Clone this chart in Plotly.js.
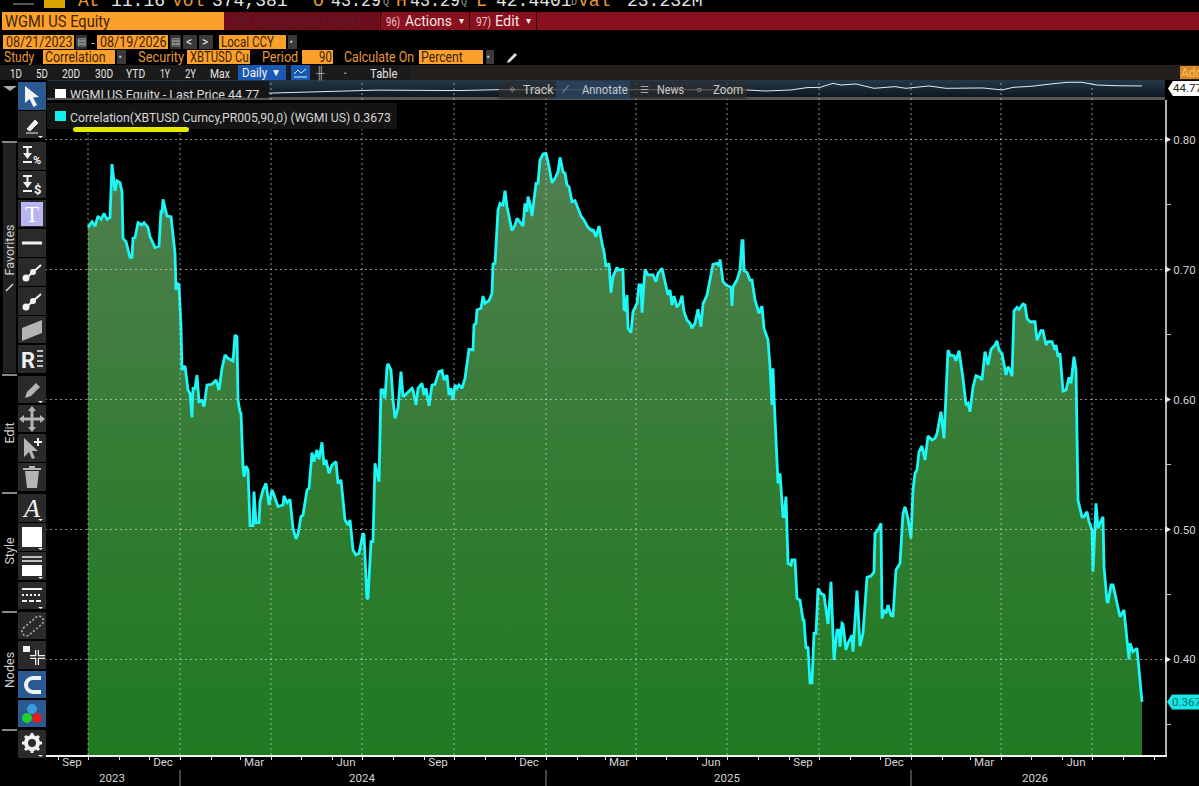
<!DOCTYPE html>
<html><head><meta charset="utf-8">
<script src="https://cdn.plot.ly/plotly-3.0.1.min.js"></script>
<style>
html,body{margin:0;padding:0;background:#000;overflow:hidden}
#stage{position:relative;width:1199px;height:786px;overflow:hidden;background:#000;font-family:Roboto,Arial,sans-serif}
#under,#chart,#over{position:absolute;left:0;top:0;width:1199px;height:786px}
#under{z-index:0}#chart{z-index:1}#over{z-index:2;pointer-events:none}
.b{position:absolute}
.t{position:absolute;white-space:pre;line-height:1}
svg.i{position:absolute;left:0;top:0}
</style></head><body>
<div id="stage"><div id="under"></div><div id="chart"></div><div id="over"></div></div>
<script>
// ---------- chart data ----------
const startDate = [2023, 9, 1];           // Oct 1 2023: day 0
const dayOffsets = [0,4,7,10,13,16,19,22,24,27,29,32,34,35,38,42,44,45,47,50,54,56,60,62,67,71,73,74,75,79,83,85,87,88,89,91,93,94,97,100,102,104,105,107,109,111,114,116,119,124,128,131,134,137,140,145,147,149,150,152,
153,155,156,158,160,162,165,166,168,171,172,175,178,181,184,186,190,195,196,199,202,205,208,210,213,215,219,221,224,226,229,231,234,236,238,241,244,248,250,253,257,260,262,265,268,271,275,276,279,280,283,285,287,291,
293,295,297,298,299,300,303,305,307,310,313,315,317,324,325,328,330,334,336,338,341,344,347,351,354,356,359,361,363,365,367,369,371,374,377,381,385,386,388,389,393,395,397,401,404,405,407,410,412,415,417,419,421,424,427,429,433,435,437,439,440,442,444,448,450,452,455,458,460,464,467,470,472,475,477,479,481,484,487,490,493,496,500,504,505,508,511,514,516,518,521,523,525,529,530,535,536,537,539,540,543,545,549,551,553,554,557,560,565,568,570,574,577,580,582,
584,586,589,592,594,596,599,602,604,607,610,613,615,619,622,625,629,631,632,635,638,643,644,645,649,652,654,655,656,659,662,664,667,671,674,676,680,682,684,685,686,689,690,692,695,696,698,699,
700,703,704,707,709,712,715,716,718,720,722,724,726,728,730,733,736,740,743,746,749,751,752,754,755,758,760,764,765,769,772,775,779,783,786,787,790,793,794,796,798,800,803,805,808,812,815,817,820,823,
825,827,829,831,834,837,840,844,847,849,853,856,858,860,862,866,868,871,875,878,880,882,885,888,892,894,897,900,903,907,909,911,914,918,920,922,924,926,929,931,935,937,939,942,947,949,953,955,958,960,964,967,968,970,972,975,978,981,983,986,988,989,990,994,996,999,1001,1004,1005,1008,1010,1012,1015,1016,1019,1020,1023,1025,1029,1032,1036,1039,1041,1042,1045,1049,1054];
const correlation = [.7324,.7368,.7334,.7411,.7386,.7432,.7386,.7401,.7811,.7606,.7683,.7668,.7599,.7240,.7214,.7093,.7093,.7240,.7245,.7360,.7342,.7360,.7324,.7252,.7170,.7181,.7458,.7432,.7540,.7411,.7406,.7252,.7124,.6842,.6893,.6881,.6560,.6227,.6258,.6073,.6047,.5863,.6086,.6086,.6188,.5983,.5991,.5945,.6111,.6117,.6150,.6073,.6240,.6342,.6317,.6296,.6496,.6483,.5996,.5906,
.5894,.5483,.5406,.5488,.5458,.5029,.5029,.5291,.5053,.5053,.5214,.5304,.5355,.5188,.5304,.5265,.5176,.5188,.5258,.5206,.5232,.5009,.4927,.4965,.5099,.5112,.5304,.5317,.5591,.5522,.5612,.5540,.5671,.5496,.5535,.5432,.5496,.5522,.5355,.5381,.5073,.5035,.5073,.4842,.4804,.4817,.4971,.4958,.4465,.4471,.4906,.4906,.5509,.5368,
.6073,.6073,.6009,.6129,.6252,.6273,.6227,.5996,.5855,.5932,.6214,.6022,.6034,.6086,.6073,.5958,.6086,.6124,.6034,.6086,.5952,.6111,.6117,.6214,.6222,.6150,.6188,.6034,.6086,.5996,.6111,.6086,.6111,.6086,.6163,.6386,.6381,.6573,.6586,.6688,.6701,.6796,.6740,.6760,.6817,.7042,.7047,.7458,.7509,.7496,.7606,.7483,.7419,.7299,.7342,.7393,.7355,.7334,.7509,.7445,.7560,.7509,.7411,.7663,.7663,.7842,.7888,.7893,.7829,.7668,.7701,.7752,.7863,.7752,.7740,.7650,.7637,.7522,.7529,.7470,.7411,.7381,.7324,.7299,.7309,.7252,.7334,.7201,.7137,.7022,.7047,.6822,.6945,.7017,.6996,.7001,.6693,.6688,.6804,.6547,.6514,.6675,.6740,.6881,.6881,.6668,.7001,.6958,.6958,.6906,.6970,.7009,.6906,.6804,.6842,
.6727,.6796,.6709,.6745,.6799,.6676,.6612,.6586,.6548,.6586,.6694,.6560,.6735,.6804,.6919,.7040,.7048,.7027,.7078,.6907,.6881,.6863,.6719,.6868,.6919,.6996,.7222,.7222,.6991,.6978,.6919,.6919,.6766,.6663,.6719,.6548,.6458,.6253,.5958,.6240,.6022,.5432,.5355,.5432,.5099,.5099,.5253,.4996,
.4739,.4726,.4765,.4765,.4470,.4457,.4303,.4303,.4085,.4098,.3821,.3821,.4201,.4201,.4547,.4508,.4496,.4273,.4598,.3996,.4226,.4226,.4098,.4278,.4273,.4073,.4124,.4188,.4060,.4529,.4103,.4201,.4632,.4642,.4675,.4970,.4996,.5047,.4316,.4380,.4355,.4419,.4337,.4334,.4688,.4739,.5124,.5175,.5085,.4932,
.5304,.5432,.5457,.5598,.5642,.5534,.5719,.5688,.5701,.5739,.5906,.5701,.6073,.6380,.6342,.6337,.6298,.6375,.6163,.5957,.5970,.5906,.6098,.6183,.6170,.6150,.6368,.6265,.6386,.6419,.6452,.6380,.6355,.6188,.6252,.6227,.6180,.6683,.6709,.6693,.6734,.6727,.6624,.6598,.6598,.6457,.6529,.6529,.6419,.6445,.6445,.6380,.6419,.6329,.6355,.6065,.6073,.6170,.6124,.6329,.6227,.5816,.5227,.5098,.5098,.5137,.5060,.4996,.4675,.5201,.5009,.5047,.5098,.4714,.4445,.4437,.4573,.4573,.4419,.4329,.4380,.4175,.4001,.4124,.4060,.4086,.3673];
const priceDays = [180,252,289,371,409,532,659,677,703,719,732,745,753,768,786,807,818,841,858,895,914,925,944,960,979,994,1009,1029,1054];
const lastPrice = [28.2,32.2,35.2,34.2,36.2,36.2,35.6,33.2,35.6,41,41.6,50.8,47,49.4,39.4,43.2,39.4,44.8,39.4,40.2,35.6,41.6,44.2,48.6,53.2,53.2,47,45.4,44.77];
const monthTickDates = ['2023-09-15','2023-12-15','2024-03-15','2024-06-15','2024-09-15','2024-12-15','2025-03-15','2025-06-15','2025-09-15','2025-12-15','2026-03-15','2026-06-15'];
const monthTickLabels = ['Sep','Dec','Mar','Jun','Sep','Dec','Mar','Jun','Sep','Dec','Mar','Jun'];
const quarterGridDates = ['2023-10-01','2024-01-01','2024-04-01','2024-07-01','2024-10-01','2025-01-01','2025-04-01','2025-07-01','2025-10-01','2026-01-01','2026-04-01','2026-07-01'];
const yearLabels = ['2023','2024','2025','2026'];
const yearLabelDates = ['2023-10-25','2024-07-01','2025-07-01','2026-05-05'];
const yearBreakDates = ['2024-01-01','2025-01-01','2026-01-01'];
const yTickValues = [.4,.5,.6,.7,.8];
const yTickLabels = ['0.40','0.50','0.60','0.70','0.80'];
const yMinorValues = [.35,.45,.55,.65,.75];

// ---------- plot ----------
const toDate = d => new Date(Date.UTC(startDate[0], startDate[1], startDate[2] + d)).toISOString().slice(0,10);
const dates = dayOffsets.map(toDate);
const priceDates = priceDays.map(toDate);
const H = 755;
const grid = {color:'rgba(225,225,225,.62)', width:1, dash:'2px,3px'};
const shapes = [];
quarterGridDates.forEach(d => shapes.push({type:'line',xref:'x',yref:'paper',x0:d,x1:d,y0:0,y1:(H-80)/H,line:grid}));
yTickValues.forEach(v => shapes.push({type:'line',xref:'paper',yref:'y',x0:0,x1:1,y0:v,y1:v,line:grid}));
yTickValues.forEach(v => shapes.push({type:'path',xref:'paper',yref:'y',xsizemode:'pixel',ysizemode:'pixel',xanchor:1,yanchor:v,
  path:'M0,-3.5 L6,0 L0,3.5 Z',fillcolor:'#e6e6e6',line:{width:0}}));
yearBreakDates.forEach(d => shapes.push({type:'line',xref:'x',yref:'paper',x0:d,x1:d,y0:-15/H,y1:-31/H,line:{color:'#8a8a8a',width:1}}));
const last = correlation[correlation.length-1];
shapes.push({type:'path',xref:'paper',yref:'y',xsizemode:'pixel',ysizemode:'pixel',xanchor:1,yanchor:last,
  path:'M2,0 L7,-7.5 L40,-7.5 L40,7.5 L7,7.5 Z',fillcolor:'#16e8e8',line:{width:0}});
const annotations = yearLabels.map((s,i)=>({text:s,x:yearLabelDates[i],xref:'x',y:-23/H,yref:'paper',yanchor:'middle',showarrow:false,font:{family:'Roboto',size:11.5,color:'#d4d4d4'}}));
annotations.push({text:last.toFixed(4),xref:'paper',x:1,xshift:5,xanchor:'left',y:last,yref:'y',yanchor:'middle',showarrow:false,font:{family:'Roboto',size:11.5,color:'#006a70'}});
const traces = [
 {type:'scatter',mode:'lines',name:'Correlation(XBTUSD Curncy,PR005,90,0) (WGMI US)',x:dates,y:correlation,
  line:{color:'#1cf7f7',width:2.8},fill:'tozeroy',
  fillgradient:{type:'vertical',start:.33,stop:.80,colorscale:[[0,'#1f7a22'],[.45,'#337c32'],[1,'#527f52']]},hoverinfo:'skip'},
 {type:'scatter',mode:'lines',name:'WGMI US Equity - Last Price',x:priceDates,y:lastPrice,yaxis:'y2',line:{color:'#e8e8e8',width:1},hoverinfo:'skip'}
];
const layout = {
 width:1199,height:786,margin:{l:45,r:34,t:0,b:31,pad:0},autosize:false,showlegend:false,
 paper_bgcolor:'rgba(0,0,0,0)',plot_bgcolor:'rgba(0,0,0,0)',
 font:{family:'Roboto',color:'#d4d4d4',size:11.5},
 xaxis:{type:'date',range:[toDate(-43),toDate(1077)],showgrid:false,zeroline:false,showline:true,linecolor:'#f2f2f2',linewidth:1.5,
   tickmode:'array',tickvals:monthTickDates,ticktext:monthTickLabels,ticks:'',ticklen:0,tickangle:0,
   tickfont:{family:'Roboto',size:11.5,color:'#d4d4d4'},ticklabelstandoff:-4,
   minor:{ticks:'outside',ticklen:3,tickwidth:1,tickcolor:'#e0e0e0',tick0:'2023-09-01',dtick:'M1',showgrid:false}},
 yaxis:{domain:[0,(H-100)/H],range:[.3265,.8304],side:'right',showgrid:false,zeroline:false,showline:true,linecolor:'#b0b0b0',linewidth:2,
   tickmode:'array',tickvals:yTickValues,ticktext:yTickLabels,ticks:'outside',ticklen:4,tickwidth:0,tickcolor:'rgba(0,0,0,0)',
   tickfont:{family:'Roboto',size:11.5,color:'#d4d4d4'},
   minor:{tickmode:'array',tickvals:yMinorValues,ticks:'outside',ticklen:4,tickwidth:1,tickcolor:'#c0c0c0',showgrid:false}},
 yaxis2:{domain:[(H-97)/H,(H-80)/H],range:[19.4,58.5],visible:false,fixedrange:true},
 shapes,annotations
};

// ---------- terminal chrome around the chart ----------
const under=document.getElementById('under'), over=document.getElementById('over');
function box(x,y,w,h,bg,p,extra){const e=document.createElement('div');e.className='b';e.style.cssText=`left:${x}px;top:${y}px;width:${w}px;height:${h}px;background:${bg};${extra||''}`;(p||over).appendChild(e);return e;}
function txt(s,x,yc,col,size,w,fam){const e=document.createElement('div');e.className='t';e.textContent=s;e.style.cssText=`left:${x}px;top:${yc}px;transform:translateY(-50%);color:${col};font-size:${size}px;font-family:${fam||'Roboto'};`;over.appendChild(e);
 if(w){const r=w/e.offsetWidth;e.style.transformOrigin='left center';e.style.transform=`translateY(-50%) scaleX(${r})`;}return e;}
const OR='#fba02b',ORT='#e8983a',INK='#3c2308',WH='#e6e6e6';
// top quote row (cropped by the window edge)
[['At',78,ORT,18],['11:16',111,WH,18],['Vol',172,ORT,18],['374,381',212,WH,18],['O',313,ORT,18],['43.29',331,WH,18,50],['Q',383,'#999',10],['H',396,ORT,18],['43.29',410,WH,18,50],['Q',461,'#999',10],['L',476,ORT,18],['42.4401',496,WH,18],['D',571,'#999',10],['Val',578,ORT,18],['23.232M',627,WH,18]]
 .forEach(a=>txt(a[0],a[1],a[3]==18?1:3,a[2],a[3],a[4]||0,'"Liberation Mono"'));
box(44,0,21,8,'#d9a400');box(13,3,21,2,'#555');
// red title bar
box(224,12,975,18,'#8a0f1f');box(224,12,155,18,'#6d0d1b');
box(2,12,222,18,OR);
txt('WGMI US Equity',5,21,INK,17,105);
txt('94) Suggested Charts',230,21,'#5e1a26',15,133);txt('▪',369,21,'#5e1a26',9);
box(380,12,1,18,'#300');box(469,12,1,18,'#300');box(536,12,1,18,'#300');
txt('96)',386,21,'#e9c9c9',13,14);txt('Actions',405,21,'#f0e6e6',15,47);txt('▾',459,21,'#eee',10);
txt('97)',476,21,'#e9c9c9',13,15);txt('Edit',495,21,'#f0e6e6',15,24);txt('▾',526,21,'#eee',10);
// date row
box(3,35,71,14,OR);txt('08/21/2023',6,42,INK,14,67);
box(76,35,11,14,'#333');txt('▤',77,42,'#bbb',10);txt('-',91,42,'#ccc',13);
box(97,35,71,14,OR);txt('08/19/2026',100,42,INK,14,67);
box(170,35,11,14,'#333');txt('▤',171,42,'#bbb',10);
box(183,35,14,14,'#3a3a3a');txt('<',186,42,'#eee',12);box(199,35,14,14,'#3a3a3a');txt('>',202,42,'#eee',12);
box(219,35,67,14,OR);txt('Local CCY',221,42,INK,14,53);box(288,35,9,14,'#3a3a3a');txt('▪',290,42,'#ccc',8);
// study row
txt('Study',4,57,ORT,14,30);box(43,50,72,14,OR);txt('Correlation',45,57,INK,14,61);box(117,50,9,14,'#3a3a3a');txt('▪',119,57,'#ccc',8);
txt('Security',138,57,ORT,14,46);box(187,50,63,14,OR);txt('XBTUSD Cu',190,57,INK,14,59);
txt('Period',262,57,ORT,14,36);box(302,50,31,14,OR);txt('90',319,57,INK,14,13);
txt('Calculate On',344,57,ORT,14,70);box(419,50,64,14,OR);txt('Percent',421,57,INK,14,42);box(486,50,8,14,'#3a3a3a');txt('▪',487,57,'#ccc',8);
const penSvg=`<svg class="i" width="14" height="14" viewBox="0 0 14 14"><path d="M2 12l1-3 7-7 2 2-7 7z" fill="#ddd"/></svg>`;
box(505,51,14,14,'transparent').innerHTML=penSvg;
// range row
box(0,65,1199,15,'#221f1d');box(0,65,410,15,'#1a1a1a');
[['1D',10,12],['5D',36,12],['20D',62,18],['30D',95,18],['YTD',126,19],['1Y',160,10],['2Y',185,11],['Max',210,20]].forEach(a=>txt(a[0],a[1],72.5,'#e4e4e4',13,a[2]));
box(238,65,48,15,'#1959b3');txt('Daily',242,72.5,'#f2f2f2',13.5,25);txt('▼',271,72.5,'#f2f2f2',10);
box(291,65,19,15,'#1959b3');box(291,65,19,15,'transparent').innerHTML='<svg class="i" width="19" height="15"><path d="M3 9l4-4 3 3 5-4" stroke="#cfe" fill="none"/><path d="M3 12h13" stroke="#cfe"/></svg>';
txt('╫',316,72.5,'#aaa',12);txt('▪',344,72.5,'#bbb',6);txt('Table',370,72.5,'#e4e4e4',13,27);
box(1180,66,19,13,'#d9891f');txt('Add',1181,72.5,'#f6c069',12);
// navigation strip
box(48,80,1117,17,'linear-gradient(#24394a,#0d1720)',under);box(47,97,1118,3,'#555',under);
const lg=box(47,81,222,17,'rgba(20,20,20,.88)',over,'overflow:hidden');
box(55,89,11,9,'#fff');
const lp=document.createElement('div');lp.className='t';lp.textContent='WGMI US Equity - Last Price 44.77';lp.style.cssText='left:23px;top:8px;color:#ddd;font-size:12.5px;font-family:Roboto';lg.appendChild(lp);
box(499,81,248,18,'rgba(45,45,45,.72)');box(556,81,74,18,'rgba(40,80,120,.55)');
txt('✧',508,90,'#aaa',10);txt('Track',523,89.5,'#c8c8c8',12,30);txt('⟋',562,90,'#bbb',10);txt('Annotate',582,89.5,'#c8c8c8',12,46);
txt('☰',640,90,'#aaa',10);txt('News',657,89.5,'#c8c8c8',12,27);txt('○',696,90,'#aaa',10);txt('Zoom',713,89.5,'#c8c8c8',12,30);
box(1168,81,31,15,'#fff',over,'clip-path:polygon(0 50%,16% 0,100% 0,100% 100%,16% 100%)');
txt('44.77',1173,88.5,'#222',11.5);
// legend
box(47,103,350,26,'#141414');box(55,111,11,10,'#14f0f0');
txt('Correlation(XBTUSD Curncy,PR005,90,0) (WGMI US) 0.3673',70,117,'#d6d6d6',13,321);
box(73,127,116,5,'#e5ea00',over,'border-radius:3px');
// side toolbar
const btn=(y,h,bg,svg)=>{const e=box(18,y,28,h,bg||'#2a2a2a');if(svg)e.innerHTML=`<svg class="i" width="28" height="28" viewBox="0 0 28 28">${svg}</svg>`;return e;};
const W='#f2f2f2',G='#b4b4b4';
const tri=`<path d="M20 25h5l-2.5 2z" fill="${W}"/>`;
const dn=`<path d="M5 5h9M9.500 5v6" stroke="${W}" stroke-width="2"/><path d="M5 11h9l-4.500 6z" fill="${W}"/><path d="M5 20h9" stroke="${W}" stroke-width="2"/>`;
const nodes=`<path d="M6 22L23 7" stroke="${W}" stroke-width="2"/><circle cx="8" cy="20" r="3.500" fill="${W}"/><circle cx="15" cy="14" r="3" fill="${W}"/>`;
const bt=[
 [82,28,'#2b5a92',`<path d="M7 4v17l4.500-4 4 8 3.500-2-4-7.500 6-.5z" fill="${W}"/>`],
 [111,27,0,`<path d="M9 18l8-9 3 3-8 8zM8 22h12" fill="${W}" stroke="${W}"/>`+tri],
 [142,28,0,dn+`<text x="15" y="22" font-size="11" font-weight="700" fill="${W}" font-family="Roboto">%</text>`],
 [171,27,0,dn+`<text x="16" y="23" font-size="13" font-weight="700" fill="${W}" font-family="Roboto">$</text>`],
 [200,27,'#2a2a2a',`<rect x="3" y="2" width="22" height="24" fill="#b9b5f2"/><text x="14" y="22" text-anchor="middle" font-size="23" fill="#fff" font-family="Liberation Serif">T</text>`],
 [229,28,0,`<path d="M4 14h20" stroke="${W}" stroke-width="3"/>`],
 [258,28,0,nodes],
 [287,28,0,nodes],
 [316,27,0,`<path d="M4 12L24 4v13L4 25z" fill="${G}"/>`],
 [345,28,0,`<text x="3" y="23" font-size="22" font-weight="700" fill="${W}" font-family="Roboto">R</text><path d="M19 6h6M19 11h6M19 16h6M19 21h6" stroke="${W}" stroke-width="1.500"/>`],
 [376,27,0,`<path d="M7 22l2-6 9-9 4 4-9 9z" fill="${G}"/>`+tri],
 [405,27,0,`<path d="M14 3v22M3 14h22" stroke="${G}" stroke-width="3"/><path d="M14 1l4 5h-8zM14 27l4-5h-8zM1 14l5-4v8zM27 14l-5-4v8z" fill="${G}"/>`],
 [434,28,0,`<path d="M6 4v19l5-5 3 7 3-1-3-7 6 0z" fill="${G}"/><path d="M20 4v8M16 8h8" stroke="${W}" stroke-width="2"/>`],
 [463,28,0,`<path d="M7 8h14l-2 17H9z" fill="${G}"/><path d="M5 6h18M11 4h6" stroke="${G}" stroke-width="2"/>`],
 [494,28,0,`<text x="14" y="23" text-anchor="middle" font-size="26" font-style="italic" fill="${W}" font-family="Liberation Serif">A</text>`+tri],
 [523,28,0,`<rect x="4" y="4" width="20" height="20" fill="#fff"/>`+tri],
 [552,28,0,`<path d="M4 5h20M4 9h20" stroke="${W}" stroke-width="1.500"/><rect x="4" y="13" width="20" height="11" fill="#fff"/>`+tri],
 [582,27,0,`<path d="M4 7h20" stroke="${W}" stroke-width="2"/><path d="M4 13h20" stroke="${W}" stroke-width="2" stroke-dasharray="2 2"/><path d="M4 19h20" stroke="${W}" stroke-width="2" stroke-dasharray="5 2"/>`+tri],
 [612,27,0,`<rect x="2" y="10" width="25" height="9" rx="4" transform="rotate(-40 14 14)" fill="none" stroke="${G}" stroke-width="1.500" stroke-dasharray="2 2"/>`],
 [641,28,0,`<rect x="5" y="5" width="7" height="6" fill="${W}"/><path d="M19 9v15M12 16h15" stroke="${W}" stroke-width="4"/><path d="M19 9v15M12 16h15" stroke="#2a2a2a" stroke-width="1.500"/>`],
 [671,27,'#2b5a92',`<path d="M23 7h-8a7 7 0 0 0 0 14h8" fill="none" stroke="${W}" stroke-width="4"/>`],
 [700,27,'#2b5a92',`<circle cx="14" cy="9" r="5" fill="#3a9be0"/><circle cx="9" cy="18" r="5" fill="#20d030"/><circle cx="19" cy="18" r="5" fill="#e02020"/>`],
 [730,28,0,`<circle cx="14" cy="13" r="6" fill="none" stroke="${W}" stroke-width="4"/><path d="M14 3v20M4 13h20M7 6l14 14M21 6L7 20" stroke="${W}" stroke-width="3" stroke-dasharray="3 14" stroke-dashoffset="0"/>`+tri]
];
bt.forEach(a=>btn(a[0],a[1],a[2],a[3]));
box(3,142,13,231,'#222');
[141,374,492,611,729].forEach(y=>box(2,y,15,1.5,'#888'));
box(3,86,14,0,'transparent',over,'border-left:7px solid transparent;border-right:7px solid transparent;border-top:5px solid #aaa;width:0');
const side=(s,yc)=>{const e=txt(s,10,yc,'#d0d0d0',12.5);e.style.transform='translate(-50%,-50%) rotate(-90deg)';};
side('Favorites',250);side('Edit',433);side('Style',551);side('Nodes',670);
box(5,283,9,9,'transparent').innerHTML='<svg class="i" width="9" height="9"><path d="M1 8l7-7" stroke="#ddd" stroke-width="1.500"/></svg>';

Plotly.newPlot('chart',traces,layout,{displayModeBar:false,staticPlot:true});
</script></body></html>
